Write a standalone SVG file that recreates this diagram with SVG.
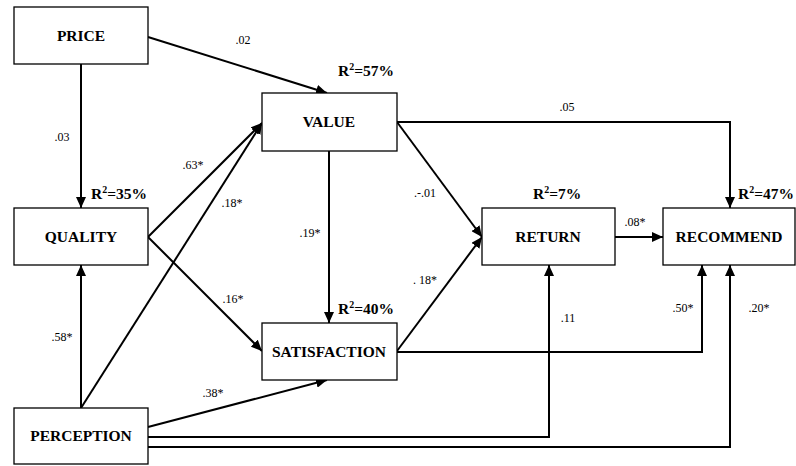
<svg xmlns="http://www.w3.org/2000/svg" width="796" height="466" viewBox="0 0 796 466" font-family="'Liberation Serif', 'DejaVu Serif', serif">
<style>
.box{fill:#fff;stroke:#000;stroke-width:1.3}
.lbl{font-family:'Liberation Serif','DejaVu Serif',serif;font-weight:bold;font-size:15.5px;text-anchor:middle;fill:#000}
.r2{font-family:'Liberation Serif','DejaVu Serif',serif;font-weight:bold;font-size:15.5px;fill:#000}
.coef{font-family:'Liberation Serif','DejaVu Serif',serif;font-size:12px;text-anchor:middle;fill:#000}
.c{fill:none;stroke:#000;stroke-width:2}
</style>
<defs>
<marker id="ah" markerUnits="userSpaceOnUse" markerWidth="12" markerHeight="10" refX="11" refY="5" orient="auto">
<path d="M0,0 L11,5 L0,10 z" fill="#000"/>
</marker>
</defs>
<g id="connectors">
<line class="c" x1="148" y1="37" x2="327" y2="93" marker-end="url(#ah)"/>
<line class="c" x1="81" y1="64" x2="81" y2="208" marker-end="url(#ah)"/>
<line class="c" x1="148" y1="237" x2="262" y2="123" marker-end="url(#ah)"/>
<line class="c" x1="81" y1="408" x2="262" y2="123" marker-end="url(#ah)"/>
<line class="c" x1="148" y1="237" x2="262" y2="351" marker-end="url(#ah)"/>
<line class="c" x1="81" y1="408" x2="81" y2="265" marker-end="url(#ah)"/>
<line class="c" x1="148" y1="427" x2="327" y2="380" marker-end="url(#ah)"/>
<line class="c" x1="329" y1="151" x2="329" y2="323" marker-end="url(#ah)"/>
<line class="c" x1="397" y1="122" x2="482" y2="237" marker-end="url(#ah)"/>
<polyline class="c" points="397,122 730,122 730,208" marker-end="url(#ah)"/>
<line class="c" x1="397" y1="351" x2="482" y2="237" marker-end="url(#ah)"/>
<polyline class="c" points="397,352 702,352 702,265" marker-end="url(#ah)"/>
<polyline class="c" points="148,437 549,437 549,265" marker-end="url(#ah)"/>
<polyline class="c" points="148,447 730,447 730,265" marker-end="url(#ah)"/>
<line class="c" x1="615" y1="237" x2="663" y2="237" marker-end="url(#ah)"/>
</g>
<g id="price"><rect class="box" x="14" y="7" width="134" height="57"/><text class="lbl" x="81" y="41">PRICE</text></g>
<g id="quality"><rect class="box" x="14" y="208" width="134" height="57"/><text class="lbl" x="81" y="242">QUALITY</text></g>
<g id="perception"><rect class="box" x="14" y="408" width="134" height="56"/><text class="lbl" x="81" y="441">PERCEPTION</text></g>
<g id="value"><rect class="box" x="262" y="93" width="135" height="58"/><text class="lbl" x="329" y="127">VALUE</text></g>
<g id="satisfaction"><rect class="box" x="262" y="323" width="135" height="57"/><text class="lbl" x="329" y="357">SATISFACTION</text></g>
<g id="return"><rect class="box" x="482" y="208" width="133" height="57"/><text class="lbl" x="548" y="242">RETURN</text></g>
<g id="recommend"><rect class="box" x="663" y="208" width="132" height="57"/><text class="lbl" x="729" y="242">RECOMMEND</text></g>
<g id="labels">
<text class="r2" x="338" y="76">R<tspan font-size="10" dy="-6">2</tspan><tspan dy="6">=57%</tspan></text>
<text class="r2" x="91" y="199">R<tspan font-size="10" dy="-6">2</tspan><tspan dy="6">=35%</tspan></text>
<text class="r2" x="533" y="199">R<tspan font-size="10" dy="-6">2</tspan><tspan dy="6">=7%</tspan></text>
<text class="r2" x="738" y="199">R<tspan font-size="10" dy="-6">2</tspan><tspan dy="6">=47%</tspan></text>
<text class="r2" x="338" y="314">R<tspan font-size="10" dy="-6">2</tspan><tspan dy="6">=40%</tspan></text>
<text class="coef" x="243" y="44">.02</text>
<text class="coef" x="62" y="141">.03</text>
<text class="coef" x="193" y="169">.63*</text>
<text class="coef" x="232" y="207">.18*</text>
<text class="coef" x="310" y="237">.19*</text>
<text class="coef" x="567" y="111">.05</text>
<text class="coef" x="425" y="197">.-.01</text>
<text class="coef" x="635" y="226">.08*</text>
<text class="coef" x="233" y="303">.16*</text>
<text class="coef" x="62" y="341">.58*</text>
<text class="coef" x="213" y="397">.38*</text>
<text class="coef" x="425" y="284">. 18*</text>
<text class="coef" x="568" y="322">.11</text>
<text class="coef" x="683" y="312">.50*</text>
<text class="coef" x="759" y="312">.20*</text>
</g>
</svg>
